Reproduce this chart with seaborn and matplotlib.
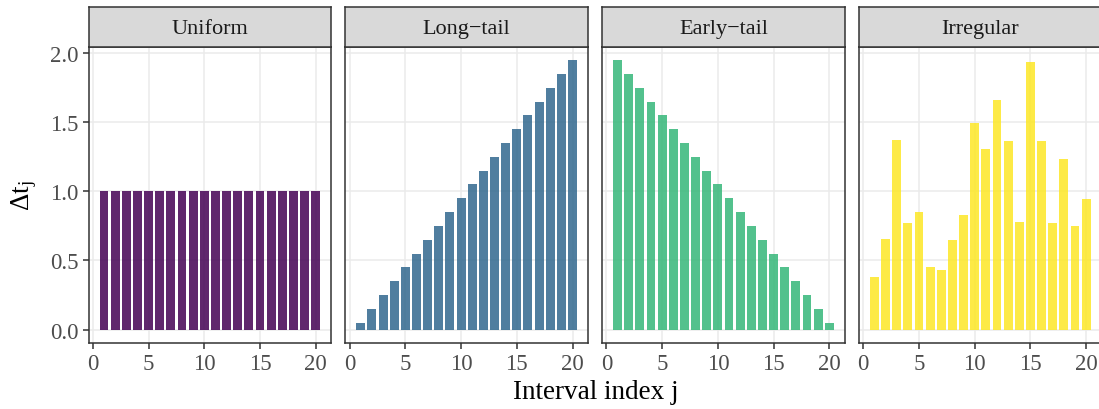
import numpy as np
import pandas as pd
import matplotlib
matplotlib.use("Agg")
import matplotlib.pyplot as plt
import seaborn as sns

# Interval widths per schedule, j = 1..20
interval_index = list(range(1, 21))
panel_names = ["Uniform", "Long\u2212tail", "Early\u2212tail", "Irregular"]
uniform_dt = [1.0] * 20
long_tail_dt = [0.05, 0.15, 0.25, 0.35, 0.45, 0.55, 0.65, 0.75, 0.85, 0.95,
                1.05, 1.15, 1.25, 1.35, 1.45, 1.55, 1.65, 1.75, 1.85, 1.95]
early_tail_dt = [1.95, 1.85, 1.75, 1.65, 1.55, 1.45, 1.35, 1.25, 1.15, 1.05,
                 0.95, 0.85, 0.75, 0.65, 0.55, 0.45, 0.35, 0.25, 0.15, 0.05]
irregular_dt = [0.38, 0.655, 1.37, 0.77, 0.85, 0.455, 0.43, 0.65, 0.83, 1.495,
                1.305, 1.665, 1.365, 0.78, 1.935, 1.365, 0.77, 1.235, 0.75, 0.945]
panel_colors = ["#440154", "#31688E", "#35B779", "#FDE725"]
y_ticks = [0.0, 0.5, 1.0, 1.5, 2.0]
x_ticks = [0, 5, 10, 15, 20]

df = pd.concat([
    pd.DataFrame({"j": interval_index, "dt": vals, "pattern": name})
    for name, vals in zip(panel_names,
                          [uniform_dt, long_tail_dt, early_tail_dt, irregular_dt])
], ignore_index=True)

sns.set_theme(style="white")
plt.rcParams["font.family"] = ["Liberation Serif", "DejaVu Serif"]
plt.rcParams["mathtext.fontset"] = "custom"
plt.rcParams["mathtext.rm"] = "Liberation Serif"
plt.rcParams["mathtext.it"] = "Liberation Serif"

W, H = 1099, 410
fig = plt.figure(figsize=(W / 100, H / 100), dpi=100)
fig.patch.set_facecolor("white")

border = "#333333"
panel_left0 = 88.5
panel_step = 256.8
panel_w = 242.7
panel_top = 47.7
panel_bot = 344.0
strip_top = 7.5

for i, (name, col) in enumerate(zip(panel_names, panel_colors)):
    left = panel_left0 + i * panel_step
    ax = fig.add_axes([left / W, 1 - panel_bot / H, panel_w / W,
                       (panel_bot - panel_top) / H])
    sub = df[df["pattern"] == name]
    sns.barplot(data=sub, x="j", y="dt", native_scale=True, width=0.8,
                color=col, alpha=0.85, saturation=1, linewidth=0,
                errorbar=None, ax=ax, zorder=3)
    ax.set_xlim(-0.39, 21.39)
    ax.set_ylim(-0.0975, 2.0475)
    ax.set_xticks(x_ticks)
    ax.set_yticks(y_ticks)
    ax.set_xlabel("")
    ax.set_ylabel("")
    ax.grid(True, color="#EBEBEB", linewidth=1.1, zorder=0)
    ax.set_axisbelow(True)
    ax.tick_params(axis="both", which="major", length=4.5, width=1.1,
                   color=border, labelcolor="#4D4D4D", labelsize=16.5,
                   pad=2.5, bottom=True, left=True)
    ax.set_xticklabels([str(t) for t in x_ticks])
    if i == 0:
        ax.set_yticklabels([f"{t:.1f}" for t in y_ticks])
    else:
        ax.tick_params(axis="y", left=False, labelleft=False)
    for sp in ax.spines.values():
        sp.set_color(border)
        sp.set_linewidth(1.1)
        sp.set_visible(True)

    # facet strip
    sax = fig.add_axes([left / W, 1 - panel_top / H, panel_w / W,
                        (panel_top - strip_top) / H])
    sax.set_facecolor("#D9D9D9")
    sax.set_xticks([])
    sax.set_yticks([])
    for sp in sax.spines.values():
        sp.set_color(border)
        sp.set_linewidth(1.1)
    sax.text(0.5, 0.45, name, ha="center", va="center", fontsize=16,
             color="#1A1A1A", transform=sax.transAxes)

fig.text(596 / W, 1 - 393 / H, "Interval index j", ha="center", va="center",
         fontsize=19.5, color="black")
fig.text(24 / W, 1 - 196 / H, "\u0394" + r"$\mathrm{t_j}$", ha="center",
         va="center", rotation=90, fontsize=19.5, color="black")

fig.savefig("out.png", dpi=100, facecolor="white")
